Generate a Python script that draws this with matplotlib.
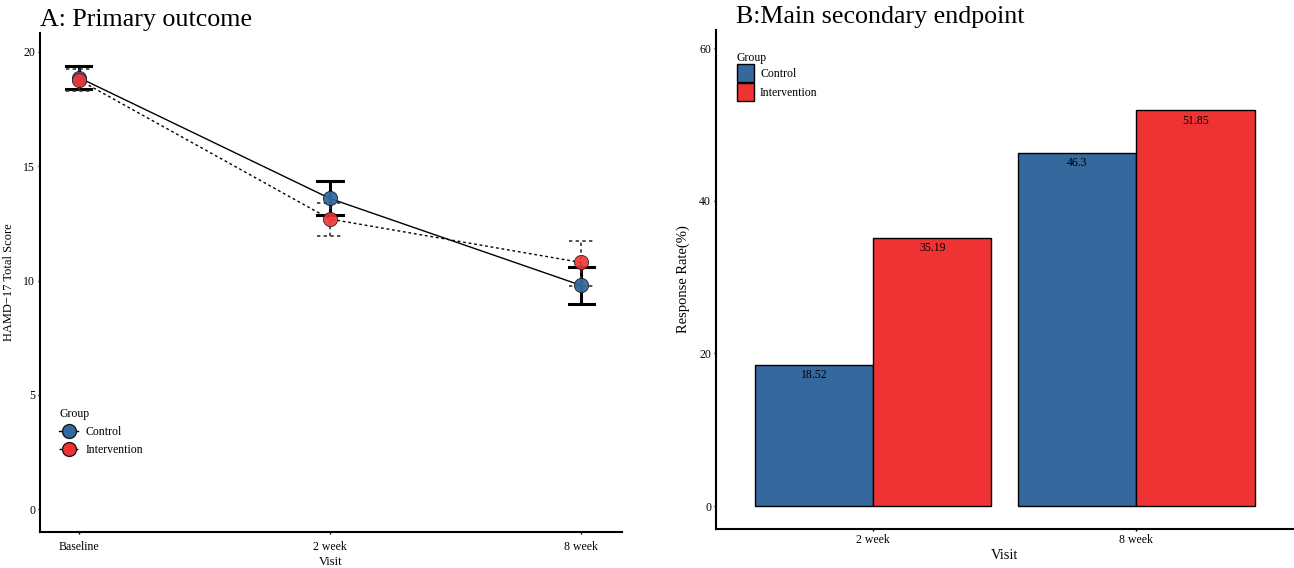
import numpy as np
import matplotlib.pyplot as plt
from matplotlib.lines import Line2D
from matplotlib.patches import Patch

plt.rcParams['font.family'] = ['Liberation Serif', 'DejaVu Serif']

# Panel A data
visits_a = ['Baseline', '2 week', '8 week']
control_mean = [18.88, 13.59, 9.79]
control_lo = [18.40, 12.86, 8.99]
control_hi = [19.38, 14.36, 10.58]
interv_mean = [18.78, 12.69, 10.79]
interv_lo = [18.31, 11.96, 9.78]
interv_hi = [19.27, 13.38, 11.74]

# Panel B data
visits_b = ['2 week', '8 week']
control_rate = [18.52, 46.3]
interv_rate = [35.19, 51.85]

BLUE = '#35699E'
RED = '#EF3335'

fig = plt.figure(figsize=(12.94, 5.68), dpi=100)

# ---------- Panel A ----------
ax = fig.add_axes([0.0309, 0.0634, 0.4498, 0.8785])
x = np.arange(len(visits_a))

ax.plot(x, control_mean, color='black', lw=1.0, ls='-', zorder=2)
ax.plot(x, interv_mean, color='black', lw=1.0, ls=(0, (2, 2)), zorder=2)

cap = 0.05
for xi, lo, hi in zip(x, control_lo, control_hi):
    ax.plot([xi, xi], [lo, hi], color='black', lw=2.2, zorder=3)
    ax.plot([xi - cap, xi + cap], [lo, lo], color='black', lw=2.2, zorder=3)
    ax.plot([xi - cap, xi + cap], [hi, hi], color='black', lw=2.2, zorder=3)
for xi, lo, hi in zip(x, interv_lo, interv_hi):
    ax.plot([xi, xi], [lo, hi], color='#333333', lw=1.2, ls=(0, (2, 2)), zorder=3)
    ax.plot([xi - cap, xi + cap], [lo, lo], color='#333333', lw=1.2, ls=(0, (2, 2)), zorder=3)
    ax.plot([xi - cap, xi + cap], [hi, hi], color='#333333', lw=1.2, ls=(0, (2, 2)), zorder=3)

ax.scatter(x, control_mean, s=105, color=BLUE, edgecolor='#1a1a1a', lw=0.6, zorder=4, alpha=0.95)
ax.scatter(x, interv_mean, s=105, color=RED, edgecolor='#1a1a1a', lw=0.6, zorder=5, alpha=0.9)

ax.set_xlim(-0.155, 2.163)
ax.set_ylim(-1.0, 20.83)
ax.set_xticks(x)
ax.set_xticklabels(visits_a)
ax.set_yticks([0, 5, 10, 15, 20])
ax.set_xlabel('Visit', fontsize=9, labelpad=2)
ax.set_ylabel('HAMD\u221217 Total Score', fontsize=9)
ax.yaxis.set_label_coords(-0.043, 0.5)
fig.text(40 / 1294, 1 - 20 / 568, 'A: Primary outcome', fontsize=18.7, ha='left', va='center')

handles_a = [
    Line2D([0], [0], color='black', lw=1.0, ls='-', marker='o', markersize=10,
           markerfacecolor=BLUE, markeredgecolor='#1a1a1a'),
    Line2D([0], [0], color='black', lw=1.0, ls=(0, (2, 2)), marker='o', markersize=10,
           markerfacecolor=RED, markeredgecolor='#1a1a1a'),
]
leg = ax.legend(handles_a, ['Control', 'Intervention'], title='Group', loc='lower left',
                bbox_to_anchor=(0.015, 0.13), frameon=False, fontsize=8.5, title_fontsize=8.5,
                handlelength=1.6, handletextpad=0.6, labelspacing=0.55)
leg._legend_box.align = 'left'

# ---------- Panel B ----------
bx = fig.add_axes([0.5533, 0.0687, 0.4467, 0.8785])
xb = np.arange(len(visits_b))
w = 0.45
bx.bar(xb - w / 2, control_rate, width=w, color=BLUE, edgecolor='black', lw=1.0, label='Control')
bx.bar(xb + w / 2, interv_rate, width=w, color=RED, edgecolor='black', lw=1.0, label='Intervention')
for xi, v in zip(xb - w / 2, control_rate):
    bx.text(xi, v - 0.6, f'{v:g}', ha='center', va='top', fontsize=8.5)
for xi, v in zip(xb + w / 2, interv_rate):
    bx.text(xi, v - 0.6, f'{v:g}', ha='center', va='top', fontsize=8.5)

bx.set_xlim(-0.597, 1.6)
bx.set_ylim(-3.0, 62.4)
bx.set_xticks(xb)
bx.set_xticklabels(visits_b)
bx.set_yticks([0, 20, 40, 60])
bx.set_xlabel('Visit', fontsize=10.5, labelpad=2)
bx.set_ylabel('Response Rate(%)', fontsize=10.5)
bx.yaxis.set_label_coords(-0.045, 0.5)
fig.text(736 / 1294, 1 - 17 / 568, 'B:Main secondary endpoint', fontsize=18.7, ha='left', va='center')

handles_b = [Patch(facecolor=BLUE, edgecolor='black'), Patch(facecolor=RED, edgecolor='black')]
leg_b = bx.legend(handles_b, ['Control', 'Intervention'], title='Group', loc='upper left',
                  bbox_to_anchor=(0.018, 0.978), frameon=False, fontsize=8.5, title_fontsize=8.5,
                  handlelength=1.45, handleheight=2.0, handletextpad=0.5, labelspacing=0.05)
leg_b._legend_box.align = 'left'

for a in (ax, bx):
    for s in ('top', 'right'):
        a.spines[s].set_visible(False)
    for s in ('left', 'bottom'):
        a.spines[s].set_linewidth(1.5)
    a.tick_params(axis='both', length=1.5, width=1, labelsize=8.5, colors='black', pad=2)
ax.tick_params(axis='x', pad=5)
bx.tick_params(axis='x', pad=2)

fig.savefig('out.png', dpi=100)
